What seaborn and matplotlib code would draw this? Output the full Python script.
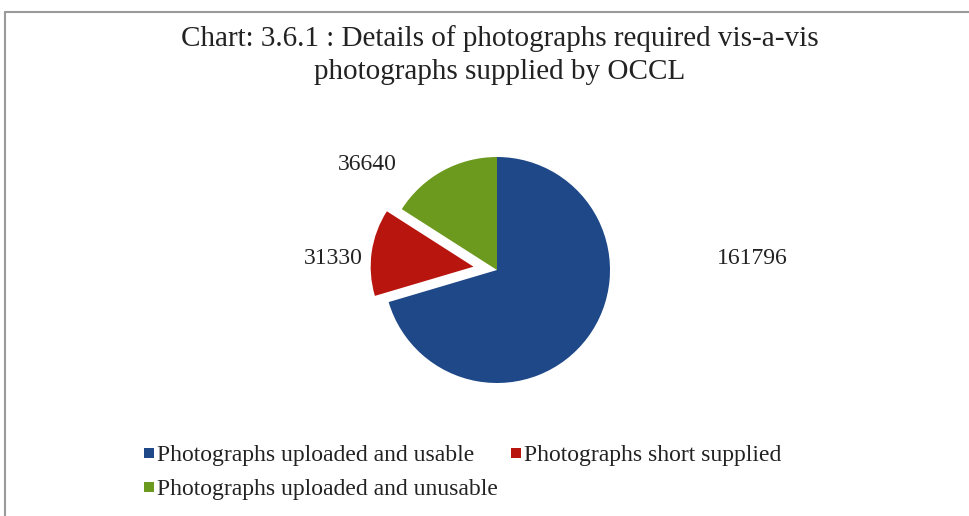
import numpy as np
import matplotlib.pyplot as plt
import seaborn as sns
from matplotlib.lines import Line2D

# data
categories = ["Photographs uploaded and usable",
              "Photographs short supplied",
              "Photographs uploaded and unusable"]
values = [161796, 31330, 36640]
colors = ["#1f4889", "#b8150f", "#6c9a1e"]
explode = [0, 0.21, 0]  # fraction of radius

sns.set_theme(style="white")
plt.rcParams['font.family'] = ['Liberation Serif', 'DejaVu Serif']

fig = plt.figure(figsize=(9.69, 5.16), dpi=100)
ax = fig.add_axes([0, 0, 1, 1])
ax.set_axis_off()

# chart frame (left and top edges visible in the scan)
ax.plot([5, 5], [0, 504], color="#9a9a9a", lw=1.5)
ax.plot([5, 969], [504, 504], color="#9a9a9a", lw=1.5)

cx, cy, r = 497, 246, 113
wedges, _ = ax.pie(values, colors=colors, explode=[e * r for e in explode],
                   startangle=90, counterclock=False, center=(cx, cy),
                   radius=r, wedgeprops=dict(linewidth=0))
# the exploded slice is drawn a little smaller, as Excel does
wedges[1].set_radius(r * 0.91)
ax.set_xlim(0, 969)
ax.set_ylim(0, 516)
ax.set_aspect("equal")
ax.set_axis_off()

# value labels, placed like the original (Excel style)
label_pos = [(752, 258), (333, 258), (367, 165)]
for v, (x, y) in zip(values, label_pos):
    ax.text(x, 516 - y, f"{v}", fontsize=17, ha="center", va="center",
            color="#222222")

ax.text(500, 516 - 39, "Chart: 3.6.1 : Details of photographs required vis-a-vis",
        fontsize=21, ha="center", va="center", color="#222222")
ax.text(500, 516 - 72, "photographs supplied by OCCL",
        fontsize=21, ha="center", va="center", color="#222222")

# legend: blue / red on first row, green on second
order = [0, 2, 1]
handles = [Line2D([], [], marker="s", linestyle="", markersize=7,
                  markerfacecolor=colors[i], markeredgewidth=0) for i in order]
labels = [categories[i] for i in order]
fig.legend(handles, labels, ncol=2, loc="upper left",
           bbox_to_anchor=(135 / 969, 1 - 435 / 516), frameon=False,
           fontsize=17, handlelength=0.4, handletextpad=0.15,
           columnspacing=0.55, labelspacing=0.55, labelcolor="#222222",
           borderaxespad=0)

fig.savefig("out.png", dpi=100)
